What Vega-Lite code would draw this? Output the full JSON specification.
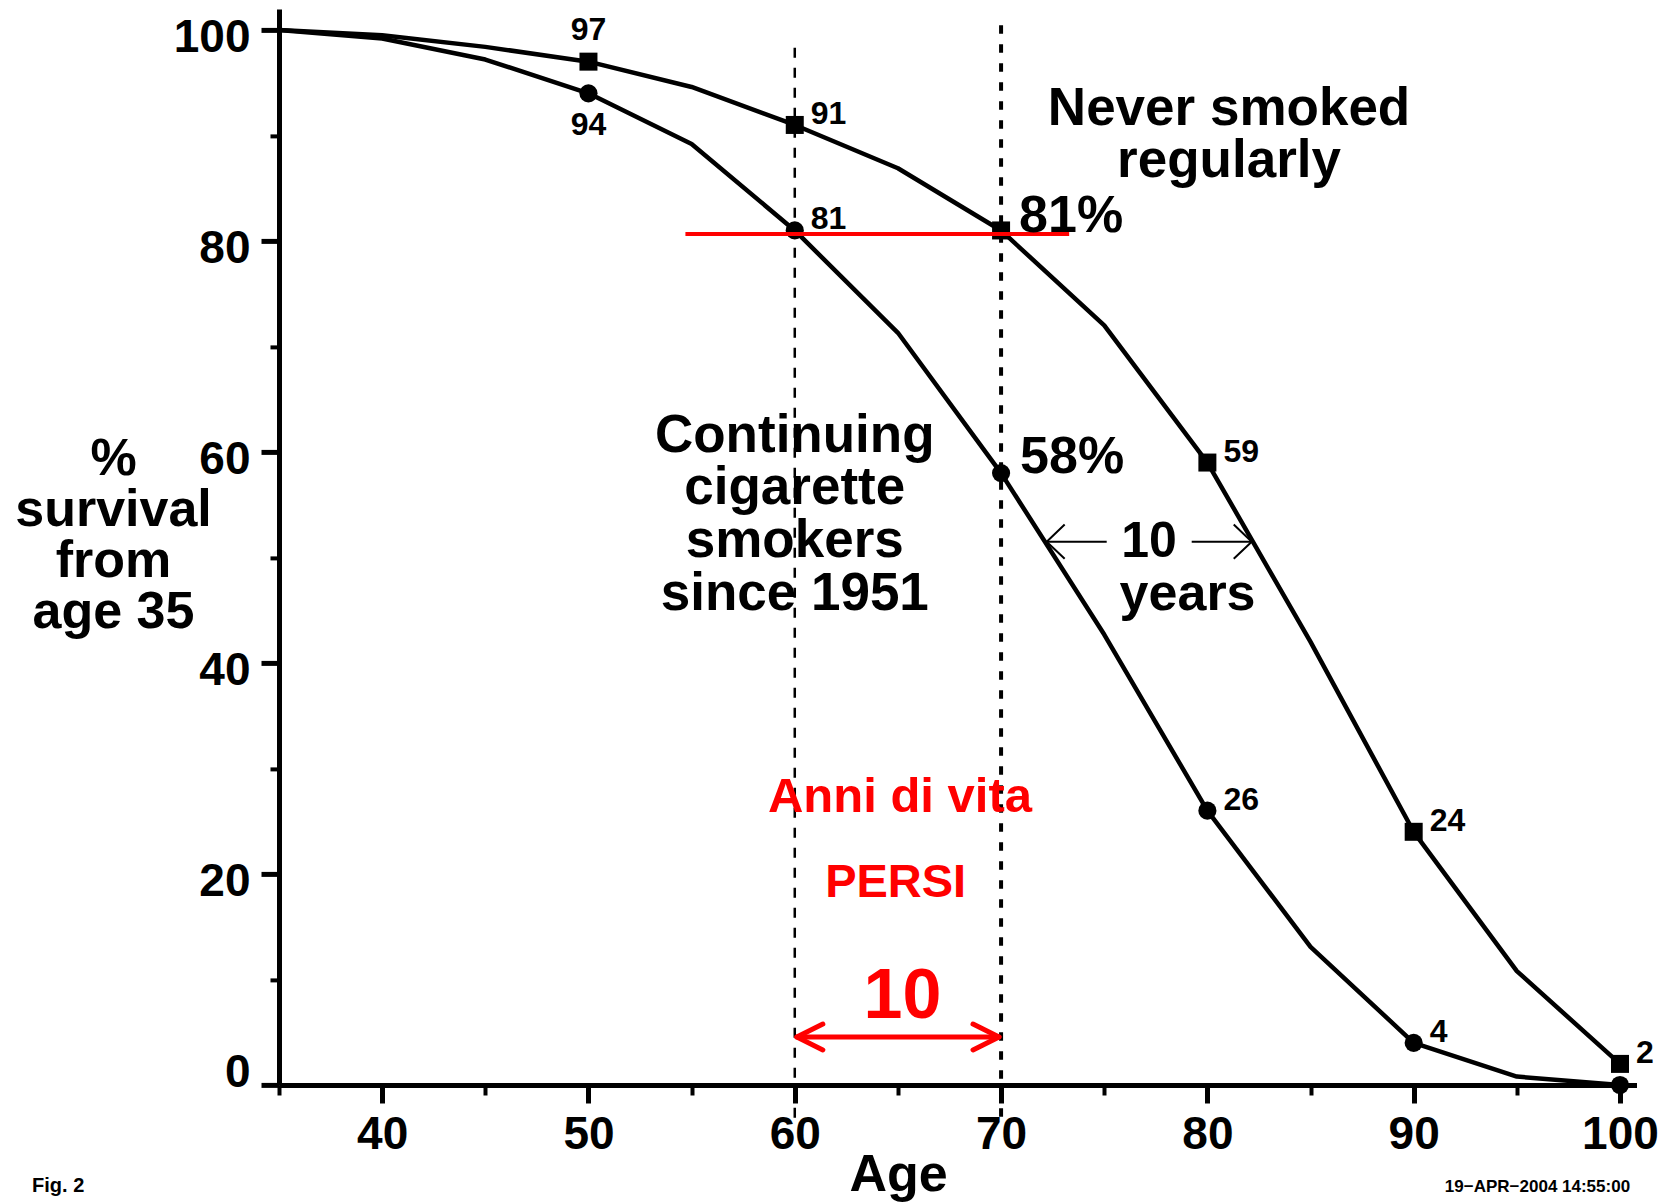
{
  "$schema": "https://vega.github.io/schema/vega-lite/v6.json",
  "width": 1357.5,
  "height": 1076.1,
  "autosize": {"type": "none"},
  "padding": {"left": 279, "top": 8.9, "right": 29.5, "bottom": 117},
  "background": "white",
  "config": {
    "view": {"stroke": null},
    "font": "Liberation Sans",
    "axis": {"grid": false, "domainColor": "black", "tickColor": "black", "labelColor": "black", "titleColor": "black", "labelFont": "Liberation Sans", "titleFont": "Liberation Sans"}
  },
  "datasets": {
    "curves": [
      {"group": "never", "age": 35, "survival": 100},
      {"group": "never", "age": 40, "survival": 99.5},
      {"group": "never", "age": 45, "survival": 98.4},
      {"group": "never", "age": 50, "survival": 97},
      {"group": "never", "age": 55, "survival": 94.6},
      {"group": "never", "age": 60, "survival": 91},
      {"group": "never", "age": 65, "survival": 86.9},
      {"group": "never", "age": 70, "survival": 81},
      {"group": "never", "age": 75, "survival": 72},
      {"group": "never", "age": 80, "survival": 59},
      {"group": "never", "age": 85, "survival": 42},
      {"group": "never", "age": 90, "survival": 24},
      {"group": "never", "age": 95, "survival": 10.8},
      {"group": "never", "age": 100, "survival": 2},
      {"group": "smoker", "age": 35, "survival": 100},
      {"group": "smoker", "age": 40, "survival": 99.2},
      {"group": "smoker", "age": 45, "survival": 97.2},
      {"group": "smoker", "age": 50, "survival": 94},
      {"group": "smoker", "age": 55, "survival": 89.2},
      {"group": "smoker", "age": 60, "survival": 81},
      {"group": "smoker", "age": 65, "survival": 71.3},
      {"group": "smoker", "age": 70, "survival": 58},
      {"group": "smoker", "age": 75, "survival": 42.7},
      {"group": "smoker", "age": 80, "survival": 26},
      {"group": "smoker", "age": 85, "survival": 13.1},
      {"group": "smoker", "age": 90, "survival": 4},
      {"group": "smoker", "age": 95, "survival": 0.8},
      {"group": "smoker", "age": 100, "survival": 0}
    ]
  },
  "layer": [
    {
      "data": {"values": [{}]},
      "mark": {"type": "rule", "color": "black", "strokeWidth": 2.5, "strokeDash": [10, 10]},
      "encoding": {"x": {"datum": 60}, "y": {"datum": -3.1}, "y2": {"datum": 99.2}}
    },
    {
      "data": {"values": [{}]},
      "mark": {"type": "rule", "color": "black", "strokeWidth": 4, "strokeDash": [8.5, 10.5]},
      "encoding": {"x": {"datum": 70}, "y": {"datum": -3}, "y2": {"datum": 100.6}}
    },
    {
      "data": {"name": "curves"},
      "mark": {"type": "line", "color": "black", "strokeWidth": 4.5, "strokeJoin": "round"},
      "encoding": {
        "x": {
          "field": "age", "type": "quantitative",
          "scale": {"domain": [35, 100.8], "nice": false, "zero": false},
          "axis": {
            "values": [35, 40, 45, 50, 55, 60, 65, 70, 75, 80, 85, 90, 95, 100],
            "labelExpr": "datum.value % 10 === 0 ? datum.label : ''",
            "format": "d",
            "tickSize": {"condition": {"test": "datum.value % 10 === 0", "value": 18}, "value": 10},
            "tickWidth": {"condition": {"test": "datum.value % 10 === 0", "value": 5}, "value": 4},
            "domainWidth": 5,
            "labelFontSize": 46, "labelFontWeight": "bold", "labelPadding": 9,
            "labelOverlap": false, "labelFlush": false,
            "title": "Age", "titleFontSize": 52, "titleFontWeight": "bold",
            "titleX": 619, "titleY": 105, "titleBaseline": "alphabetic", "titleAlign": "center"
          }
        },
        "y": {
          "field": "survival", "type": "quantitative",
          "scale": {"domain": [0, 102], "nice": false},
          "axis": {
            "values": [0, 10, 20, 30, 40, 50, 60, 70, 80, 90, 100],
            "labelExpr": "datum.value % 20 === 0 ? datum.label : ''",
            "format": "d",
            "tickSize": {"condition": {"test": "datum.value % 20 === 0", "value": 18}, "value": 9},
            "tickWidth": {"condition": {"test": "datum.value % 20 === 0", "value": 5}, "value": 4},
            "labelOffset": {"condition": {"test": "datum.value === 0", "value": -13}, "value": 7},
            "domainWidth": 5,
            "labelFontSize": 46, "labelFontWeight": "bold", "labelPadding": 11,
            "labelOverlap": false, "labelFlush": false,
            "title": ["%", "survival", "from", "age 35"],
            "titleFontSize": 52, "titleFontWeight": "bold", "titleAngle": 0,
            "titleX": -166, "titleY": 466, "titleBaseline": "alphabetic", "titleAlign": "center",
            "titleLineHeight": 51
          }
        },
        "detail": {"field": "group"}
      }
    },
    {
      "data": {"name": "curves"},
      "transform": [{"filter": "datum.group === 'never' && datum.age >= 50 && datum.age % 10 === 0"}],
      "mark": {"type": "point", "shape": "square", "size": 324, "filled": true, "color": "black", "opacity": 1},
      "encoding": {"x": {"field": "age", "type": "quantitative"}, "y": {"field": "survival", "type": "quantitative"}}
    },
    {
      "data": {"name": "curves"},
      "transform": [{"filter": "datum.group === 'smoker' && datum.age >= 50 && datum.age % 10 === 0"}],
      "mark": {"type": "point", "shape": "circle", "size": 330, "filled": true, "color": "black", "opacity": 1},
      "encoding": {"x": {"field": "age", "type": "quantitative"}, "y": {"field": "survival", "type": "quantitative"}}
    },
    {
      "data": {"values": [{}]},
      "mark": {"type": "rule", "color": "#ff0000", "strokeWidth": 4},
      "encoding": {"x": {"datum": 54.7}, "x2": {"datum": 73.3}, "y": {"datum": 80.66}}
    },
    {
      "data": {"values": [{}]},
      "mark": {"type": "rule", "color": "#ff0000", "strokeWidth": 5, "strokeCap": "round"},
      "encoding": {"x": {"datum": 60.1}, "x2": {"datum": 69.9}, "y": {"datum": 4.55}}
    },
    {
      "data": {"values": [{}]},
      "mark": {"type": "point", "shape": "M2,-1L0,0L2,1", "size": 676, "filled": false, "color": "#ff0000", "strokeWidth": 5, "strokeCap": "round", "strokeJoin": "round", "opacity": 1},
      "encoding": {"x": {"datum": 60.1}, "y": {"datum": 4.55}}
    },
    {
      "data": {"values": [{}]},
      "mark": {"type": "point", "shape": "M-2,-1L0,0L-2,1", "size": 676, "filled": false, "color": "#ff0000", "strokeWidth": 5, "strokeCap": "round", "strokeJoin": "round", "opacity": 1},
      "encoding": {"x": {"datum": 69.9}, "y": {"datum": 4.55}}
    },
    {
      "data": {"values": [{}]},
      "mark": {"type": "rule", "color": "black", "strokeWidth": 2},
      "encoding": {"x": {"datum": 72.21}, "x2": {"datum": 75.12}, "y": {"datum": 51.5}}
    },
    {
      "data": {"values": [{}]},
      "mark": {"type": "rule", "color": "black", "strokeWidth": 2},
      "encoding": {"x": {"datum": 79.24}, "x2": {"datum": 82.15}, "y": {"datum": 51.5}}
    },
    {
      "data": {"values": [{}]},
      "mark": {"type": "point", "shape": "M1,-0.95L0,0L1,0.95", "size": 1296, "filled": false, "color": "black", "strokeWidth": 2, "opacity": 1},
      "encoding": {"x": {"datum": 72.21}, "y": {"datum": 51.5}}
    },
    {
      "data": {"values": [{}]},
      "mark": {"type": "point", "shape": "M-1,-0.95L0,0L-1,0.95", "size": 1296, "filled": false, "color": "black", "strokeWidth": 2, "opacity": 1},
      "encoding": {"x": {"datum": 82.15}, "y": {"datum": 51.5}}
    },
    {
      "data": {"name": "curves"},
      "transform": [{"filter": "datum.group === 'never' && datum.age === 50"}],
      "mark": {"type": "text", "fontSize": 32, "fontWeight": "bold", "color": "black", "align": "center", "baseline": "alphabetic", "dy": -22},
      "encoding": {"x": {"field": "age", "type": "quantitative"}, "y": {"field": "survival", "type": "quantitative"}, "text": {"field": "survival", "type": "quantitative", "format": "d"}}
    },
    {
      "data": {"name": "curves"},
      "transform": [{"filter": "datum.group === 'smoker' && datum.age === 50"}],
      "mark": {"type": "text", "fontSize": 32, "fontWeight": "bold", "color": "black", "align": "center", "baseline": "alphabetic", "dy": 42},
      "encoding": {"x": {"field": "age", "type": "quantitative"}, "y": {"field": "survival", "type": "quantitative"}, "text": {"field": "survival", "type": "quantitative", "format": "d"}}
    },
    {
      "data": {"name": "curves"},
      "transform": [{"filter": "(datum.group === 'never' && (datum.age === 60 || datum.age === 80 || datum.age === 90 || datum.age === 100)) || (datum.group === 'smoker' && (datum.age === 60 || datum.age === 80 || datum.age === 90))"}],
      "mark": {"type": "text", "fontSize": 32, "fontWeight": "bold", "color": "black", "align": "left", "baseline": "alphabetic", "dx": 16, "dy": -1},
      "encoding": {"x": {"field": "age", "type": "quantitative"}, "y": {"field": "survival", "type": "quantitative"}, "text": {"field": "survival", "type": "quantitative", "format": "d"}}
    },
    {
      "data": {"name": "curves"},
      "transform": [{"filter": "datum.group === 'never' && datum.age === 70"}],
      "mark": {"type": "text", "fontSize": 52, "fontWeight": "bold", "color": "black", "align": "left", "baseline": "alphabetic", "dx": 18, "dy": 2},
      "encoding": {"x": {"field": "age", "type": "quantitative"}, "y": {"field": "survival", "type": "quantitative"}, "text": {"value": "81%"}}
    },
    {
      "data": {"name": "curves"},
      "transform": [{"filter": "datum.group === 'smoker' && datum.age === 70"}],
      "mark": {"type": "text", "fontSize": 52, "fontWeight": "bold", "color": "black", "align": "left", "baseline": "alphabetic", "dx": 19, "dy": 0},
      "encoding": {"x": {"field": "age", "type": "quantitative"}, "y": {"field": "survival", "type": "quantitative"}, "text": {"value": "58%"}}
    },
    {
      "data": {"values": [{}]},
      "mark": {"type": "text", "fontSize": 53, "fontWeight": "bold", "color": "black", "align": "center", "baseline": "alphabetic", "lineHeight": 52},
      "encoding": {"x": {"datum": 81.05}, "y": {"datum": 91.0}, "text": {"value": ["Never smoked", "regularly"]}}
    },
    {
      "data": {"values": [{}]},
      "mark": {"type": "text", "fontSize": 53, "fontWeight": "bold", "color": "black", "align": "center", "baseline": "alphabetic", "lineHeight": 52.8},
      "encoding": {"x": {"datum": 60.0}, "y": {"datum": 60.03}, "text": {"value": ["Continuing", "cigarette", "smokers", "since 1951"]}}
    },
    {
      "data": {"values": [{}]},
      "mark": {"type": "text", "fontSize": 50, "fontWeight": "bold", "color": "black", "align": "center", "baseline": "alphabetic"},
      "encoding": {"x": {"datum": 77.17}, "y": {"datum": 50.08}, "text": {"value": "10"}}
    },
    {
      "data": {"values": [{}]},
      "mark": {"type": "text", "fontSize": 52, "fontWeight": "bold", "color": "black", "align": "center", "baseline": "alphabetic"},
      "encoding": {"x": {"datum": 79.04}, "y": {"datum": 45.02}, "text": {"value": "years"}}
    },
    {
      "data": {"values": [{}]},
      "mark": {"type": "text", "fontSize": 49, "fontWeight": "bold", "color": "#ff0000", "align": "center", "baseline": "alphabetic"},
      "encoding": {"x": {"datum": 65.1}, "y": {"datum": 25.9}, "text": {"value": "Anni di vita"}}
    },
    {
      "data": {"values": [{}]},
      "mark": {"type": "text", "fontSize": 47, "fontWeight": "bold", "color": "#ff0000", "align": "center", "baseline": "alphabetic"},
      "encoding": {"x": {"datum": 64.89}, "y": {"datum": 17.85}, "text": {"value": "PERSI"}}
    },
    {
      "data": {"values": [{}]},
      "mark": {"type": "text", "fontSize": 70, "fontWeight": "bold", "color": "#ff0000", "align": "center", "baseline": "alphabetic"},
      "encoding": {"x": {"datum": 65.22}, "y": {"datum": 6.32}, "text": {"value": "10"}}
    },
    {
      "data": {"values": [{}]},
      "mark": {"type": "text", "fontSize": 20, "fontWeight": "bold", "color": "black", "align": "left", "baseline": "alphabetic"},
      "encoding": {"x": {"datum": 23.03}, "y": {"datum": -10.11}, "text": {"value": "Fig. 2"}}
    },
    {
      "data": {"values": [{}]},
      "mark": {"type": "text", "fontSize": 17, "fontWeight": "bold", "color": "black", "align": "right", "baseline": "alphabetic"},
      "encoding": {"x": {"datum": 100.49}, "y": {"datum": -10.14}, "text": {"value": "19\u2212APR\u22122004 14:55:00"}}
    }
  ]
}
